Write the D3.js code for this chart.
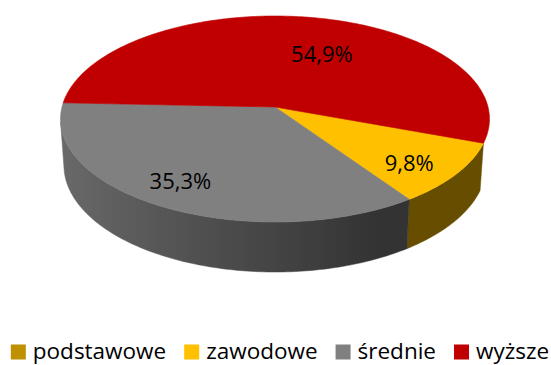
<!DOCTYPE html>
<html>
<head>
<meta charset="utf-8">
<script src="https://cdn.jsdelivr.net/npm/d3@7"></script>
<style>
  html, body { margin: 0; padding: 0; background: #fff; }
  svg { display: block; }
  text { font-family: "Open Sans", "DejaVu Sans", sans-serif; fill: #000; }
</style>
</head>
<body>
<svg id="chart" width="551" height="365"></svg>
<script>
// Education level shares (%)
const categories = ["podstawowe", "zawodowe", "średnie", "wyższe"];
const values = [0.0, 9.8, 35.3, 54.9];
const colors = ["#BF9000", "#FFC000", "#808080", "#C00000"];

const W = 551, H = 365;
const svg = d3.select("#chart");
const defs = svg.append("defs");

// 3D disc projected with a simple perspective camera
const cx = 275, cy = 107, k = 213;
const elev = Math.asin(0.477);
const camDist = 7.54;
const thickness = 0.25;
const ce = Math.cos(elev), se = Math.sin(elev);

function project(u, v, y) {
  const up = y * ce - v * se;
  const depth = y * se + v * ce;
  const s = camDist / (camDist - depth);
  return [cx + k * u * s, cy - k * up * s];
}

// d3 angle (0 at 12 o'clock, clockwise) -> screen angle from 3 o'clock
const toTheta = a => a - Math.PI / 2;
const rim = (theta, y, r = 1) => project(r * Math.cos(theta), r * Math.sin(theta), y);

const start = 110 * Math.PI / 180;
const pie = d3.pie().sort(null).value(d => d)
  .startAngle(start).endAngle(start + 2 * Math.PI);
const arcs = pie(values).map((d, i) => ({ ...d, i }));

// side wall shading by facing direction
function shade(theta) {
  return Math.max(0.4, 0.53 - 0.30 * Math.cos(theta));
}
function darken(c, f) {
  const r = d3.rgb(c);
  return d3.rgb(r.r * f, r.g * f, r.b * f).formatHex();
}

// visible part of the cylinder wall (normal facing the camera)
const sMin = Math.asin(1 / (camDist * ce));
const tMin = sMin, tMax = Math.PI - sMin;
const line = d3.line();
const step = Math.PI / 180;

function normTheta(t) {
  let r = t % (2 * Math.PI);
  if (r < -0.5) r += 2 * Math.PI;
  if (r > 2 * Math.PI - 0.5) r -= 2 * Math.PI;
  return r;
}

const sideG = svg.append("g");
arcs.forEach(a => {
  if (a.endAngle - a.startAngle <= 0) return;
  let t0 = toTheta(a.startAngle), t1 = toTheta(a.endAngle);
  // bring into a range comparable with [tMin, tMax]
  const shift = Math.floor((t0 + 0.5) / (2 * Math.PI)) * 2 * Math.PI;
  t0 -= shift; t1 -= shift;
  const lo = Math.max(t0, tMin), hi = Math.min(t1, tMax);
  if (hi <= lo) return;
  const n = Math.max(2, Math.ceil((hi - lo) / step));
  const top = [], bot = [];
  for (let j = 0; j <= n; j++) {
    const t = lo + (hi - lo) * j / n;
    top.push(rim(t, 0));
    bot.push(rim(t, -thickness));
  }
  const xs = top.map(p => p[0]).concat(bot.map(p => p[0]));
  const xMin = d3.min(xs), xMax = d3.max(xs);
  const gid = "side" + a.i;
  const grad = defs.append("linearGradient").attr("id", gid)
    .attr("gradientUnits", "userSpaceOnUse")
    .attr("x1", xMin).attr("x2", xMax).attr("y1", 0).attr("y2", 0);
  const stops = [];
  for (let j = 0; j <= n; j += 2) {
    const t = lo + (hi - lo) * j / n;
    const xm = (rim(t, 0)[0] + rim(t, -thickness)[0]) / 2;
    stops.push({ o: (xm - xMin) / (xMax - xMin), c: darken(colors[a.i], shade(t)) });
  }
  stops.sort((p, q) => p.o - q.o);
  grad.selectAll("stop").data(stops).join("stop")
    .attr("offset", d => Math.min(1, Math.max(0, d.o)))
    .attr("stop-color", d => d.c);
  sideG.append("path")
    .attr("d", line(top.concat(bot.reverse())) + "Z")
    .attr("fill", `url(#${gid})`)
    .attr("stroke", `url(#${gid})`)
    .attr("stroke-width", 0.5);
});

// top face slices
function topPath(a) {
  const pts = [project(0, 0, 0)];
  const n = Math.max(1, Math.ceil((a.endAngle - a.startAngle) / step));
  for (let j = 0; j <= n; j++) {
    const ang = a.startAngle + (a.endAngle - a.startAngle) * j / n;
    pts.push(rim(toTheta(ang), 0));
  }
  return line(pts) + "Z";
}
svg.append("g").selectAll("path").data(arcs.filter(a => a.value > 0)).join("path")
  .attr("d", topPath)
  .attr("fill", a => colors[a.i])
  .attr("stroke", a => colors[a.i])
  .attr("stroke-width", 0.6)
  .attr("stroke-linejoin", "round");

// value labels
const fmt = v => d3.format(".1f")(v).replace(".", ",") + "%";
const labelPlace = { "wyższe": { r: 0.61, da: 0.2 } };
const defaultPlace = { r: 0.78, da: 0.05 };
function labelPos(a) {
  const p = labelPlace[categories[a.i]] || defaultPlace;
  return rim(toTheta((a.startAngle + a.endAngle) / 2) + p.da, 0, p.r);
}
svg.append("g").selectAll("text").data(arcs.filter(a => a.value > 0)).join("text")
  .attr("x", a => labelPos(a)[0])
  .attr("y", a => labelPos(a)[1])
  .attr("text-anchor", "middle")
  .attr("dominant-baseline", "central")
  .attr("font-size", 22)
  .text(a => fmt(a.value));

// legend
const legend = svg.append("g");
const items = legend.selectAll("g").data(categories).join("g");
items.append("rect").attr("width", 15).attr("height", 15).attr("y", 344.5)
  .attr("fill", (d, i) => colors[i]);
items.append("text").attr("y", 359).attr("font-size", 22.5).text(d => d);
let x = 0;
const pos = [];
items.each(function () {
  const tw = d3.select(this).select("text").node().getComputedTextLength();
  pos.push(x);
  x += 15 + 7 + tw + 18;
});
const total = x - 18;
const x0 = 280 - total / 2;
items.each(function (d, i) {
  const g = d3.select(this);
  g.select("rect").attr("x", x0 + pos[i]);
  g.select("text").attr("x", x0 + pos[i] + 22);
});
</script>
</body>
</html>
